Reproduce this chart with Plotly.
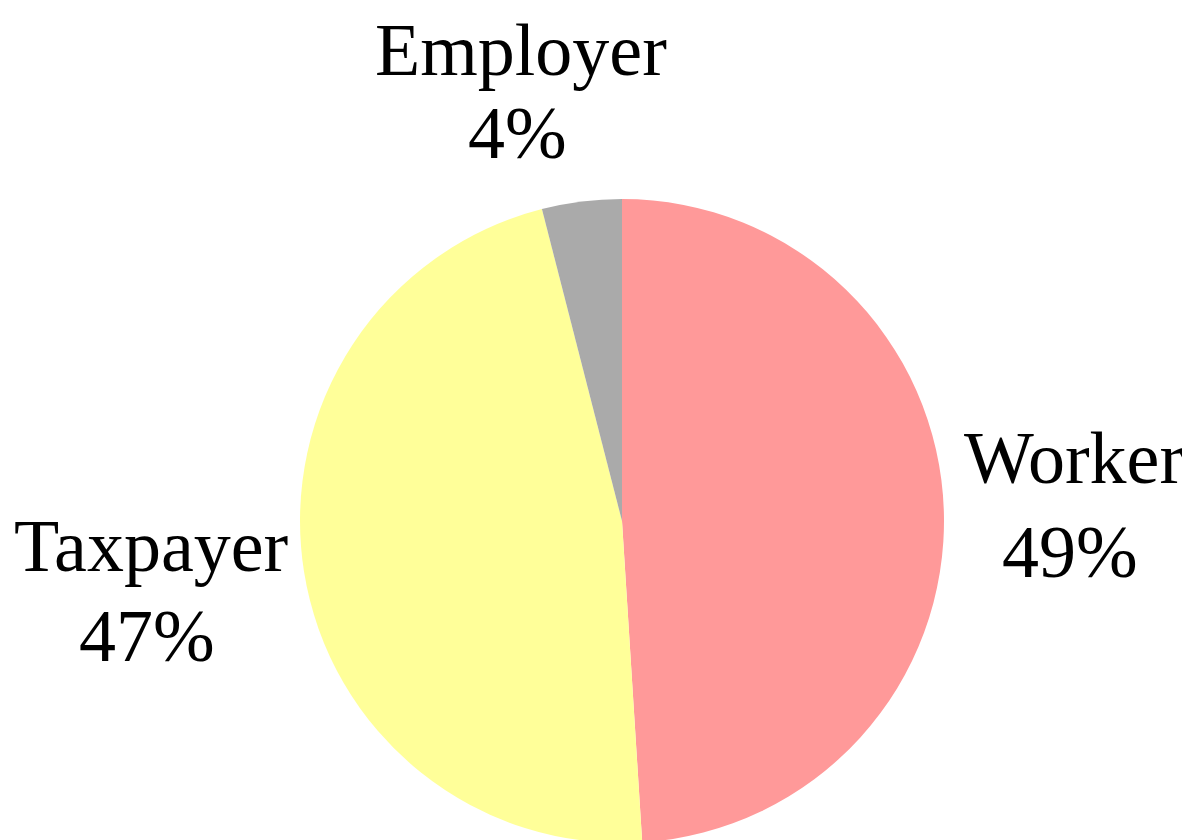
import plotly.graph_objects as go

# Data
categories = ["Worker", "Taxpayer", "Employer"]
shares = [49, 47, 4]
share_labels = ["49%", "47%", "4%"]
colors = ["#FF9999", "#FFFF99", "#AAAAAA"]

W, H = 1190, 840
FONT = "Liberation Serif, Times New Roman, serif"
FS = 74

fig = go.Figure(
    go.Pie(
        labels=categories,
        values=shares,
        sort=False,
        direction="clockwise",
        rotation=0,
        marker=dict(colors=colors, line=dict(width=0)),
        textinfo="none",
        hoverinfo="label+percent",
        showlegend=False,
        domain=dict(x=[292 / W, 936 / W], y=[5 / H, 649 / H]),
    )
)

# label placement: (name centre x, name baseline y, pct centre x, pct baseline y) in figure px
label_pos = {
    "Worker": (1066, 477, 1062, 571),
    "Taxpayer": (143, 565, 139, 655),
    "Employer": (513, 69, 509, 152),
}

def add_text(txt, cx, base):
    fig.add_annotation(
        x=cx / W, y=1 - (base - 0.36 * FS) / H, xref="paper", yref="paper",
        text=txt, showarrow=False,
        xanchor="center", yanchor="middle", align="center",
        font=dict(family=FONT, size=FS, color="black"),
    )

for cat, lab in zip(categories, share_labels):
    nx, ny, px, py = label_pos[cat]
    add_text(cat, nx, ny)
    add_text(lab, px, py)

fig.update_layout(
    width=W, height=H,
    margin=dict(l=0, r=0, t=0, b=0),
    paper_bgcolor="white", plot_bgcolor="white",
)

fig.write_html("out.html")
